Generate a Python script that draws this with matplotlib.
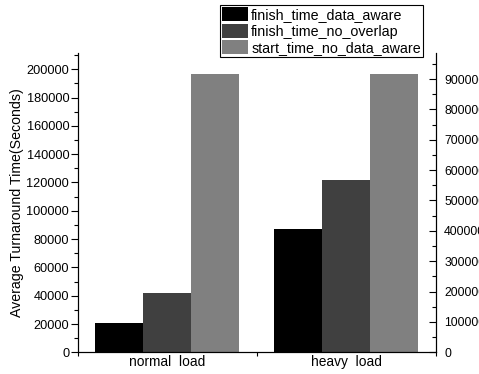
import matplotlib
matplotlib.use("Agg")
import matplotlib.pyplot as plt
import numpy as np
from matplotlib.ticker import MultipleLocator, FixedLocator

plt.rcParams['font.family'] = ['Liberation Sans', 'DejaVu Sans']

# data
loads = ["normal  load", "heavy  load"]
series = ["finish_time_data_aware", "finish_time_no_overlap", "start_time_no_data_aware"]
finish_data_aware = [21000, 87000]
finish_no_overlap = [42000, 122000]
start_no_data_aware = [197000, 197000]
colors = ["#000000", "#404040", "#808080"]

fig = plt.figure(figsize=(4.79, 3.74), dpi=100)
ax = fig.add_axes([0.1618, 0.058, 0.748, 0.801])

x = np.arange(1, len(loads) + 1)
w = 0.267
vals = [finish_data_aware, finish_no_overlap, start_no_data_aware]
for i, v in enumerate(vals):
    ax.bar(x + (i - 1) * w, v, w, color=colors[i], label=series[i], linewidth=0)

ax.set_xlim(0.5, 2.5)
ax.set_ylim(0, 211700)
ax.set_xticks(x)
ax.set_xticklabels(loads, fontsize=9.9)
ax.xaxis.set_minor_locator(FixedLocator([0.5, 1.5, 2.5]))
ax.tick_params(axis='x', which='major', length=0, pad=2)
ax.tick_params(axis='x', which='minor', length=3, width=0.8)

ax.yaxis.set_major_locator(MultipleLocator(20000))
ax.yaxis.set_minor_locator(MultipleLocator(10000))
ax.tick_params(axis='y', which='major', length=5, width=0.8, labelsize=9.2, pad=1)
ax.tick_params(axis='y', which='minor', length=3, width=0.8)
ax.set_ylabel("Average Turnaround Time(Seconds)", fontsize=10.2, labelpad=2)

ax.spines['top'].set_visible(False)

ax2 = ax.twinx()
ax2.set_ylim(0, 986600)
ax2.yaxis.set_major_locator(MultipleLocator(100000))
ax2.yaxis.set_minor_locator(MultipleLocator(50000))
ax2.tick_params(axis='y', which='major', direction='in', length=5, width=0.8, labelsize=8.8, pad=6)
ax2.tick_params(axis='y', which='minor', direction='in', length=3, width=0.8)
ax2.spines['top'].set_visible(False)

leg = ax.legend(loc='upper right', bbox_to_anchor=(0.9645, 1.159), fontsize=10.3,
                frameon=True, fancybox=False, edgecolor='black', framealpha=1,
                handlelength=1.8, handleheight=1.15, handletextpad=0.25,
                labelspacing=0.1, borderpad=0.15, borderaxespad=0)
leg.get_frame().set_linewidth(0.8)
leg.set_zorder(10)

fig.savefig("out.png", dpi=100)
